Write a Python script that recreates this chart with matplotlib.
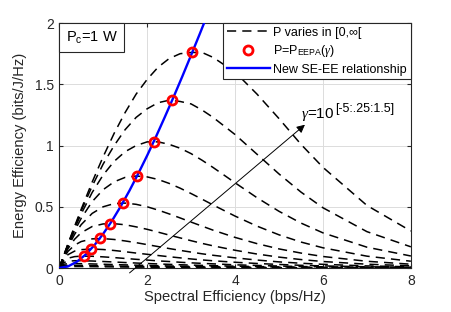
import matplotlib
matplotlib.use('Agg')
import matplotlib.pyplot as plt
from matplotlib.offsetbox import AnchoredText

plt.rcParams['font.family'] = ['Liberation Sans', 'DejaVu Sans']
plt.rcParams['mathtext.fontset'] = 'custom'
plt.rcParams['mathtext.rm'] = 'Liberation Sans'
plt.rcParams['mathtext.it'] = 'Liberation Serif:italic'

# spectral efficiency samples shared by all dashed curves (bps/Hz)
se = [0, 0.1, 0.2, 0.35, 0.5, 0.75, 1, 1.25, 1.5, 1.75, 2, 2.25, 2.5,
      2.75, 3, 3.25, 3.5, 4, 4.5, 5, 5.5, 6, 7, 8]

# energy efficiency of each dashed curve, gamma = 10^k
ee_curves = {
    1.00: [0, 0.0993, 0.197, 0.341, 0.48, 0.702, 0.909, 1.1, 1.27, 1.42, 1.54,
           1.64, 1.71, 1.75, 1.76, 1.76, 1.72, 1.6, 1.42, 1.22, 1.01, 0.822,
           0.511, 0.302],
    0.75: [0, 0.0987, 0.195, 0.334, 0.466, 0.669, 0.849, 1.0, 1.13, 1.23, 1.3,
           1.35, 1.37, 1.36, 1.34, 1.29, 1.23, 1.09, 0.929, 0.768, 0.62, 0.492,
           0.297, 0.173],
    0.50: [0, 0.0978, 0.191, 0.322, 0.442, 0.617, 0.76, 0.871, 0.95, 1.0, 1.03,
           1.03, 1.01, 0.978, 0.934, 0.88, 0.821, 0.696, 0.574, 0.463, 0.367,
           0.287, 0.17, 0.098],
    0.25: [0, 0.0961, 0.185, 0.303, 0.406, 0.542, 0.64, 0.704, 0.74, 0.751,
           0.744, 0.723, 0.691, 0.652, 0.608, 0.562, 0.515, 0.424, 0.342, 0.271,
           0.212, 0.165, 0.0967, 0.0554],
    0.00: [0, 0.093, 0.174, 0.275, 0.354, 0.446, 0.5, 0.526, 0.53, 0.52, 0.5,
           0.473, 0.442, 0.409, 0.375, 0.342, 0.309, 0.25, 0.199, 0.156, 0.122,
           0.094, 0.055, 0.031],
    -0.25: [0, 0.089, 0.158, 0.235, 0.288, 0.339, 0.36, 0.362, 0.353, 0.336,
            0.316, 0.293, 0.269, 0.246, 0.223, 0.201, 0.181, 0.145, 0.114,
            0.089, 0.069, 0.053, 0.031, 0.018],
    -0.50: [0, 0.082, 0.136, 0.187, 0.216, 0.238, 0.24, 0.233, 0.221, 0.207,
            0.191, 0.175, 0.159, 0.144, 0.13, 0.116, 0.104, 0.083, 0.065, 0.05,
            0.039, 0.03, 0.017, 0.01],
    -0.75: [0, 0.071, 0.109, 0.138, 0.15, 0.155, 0.151, 0.143, 0.133, 0.122,
            0.112, 0.102, 0.092, 0.083, 0.074, 0.066, 0.059, 0.047, 0.037,
            0.029, 0.022, 0.017, 0.01, 0.006],
    -1.00: [0, 0.058, 0.08, 0.093, 0.097, 0.096, 0.091, 0.085, 0.078, 0.071,
            0.065, 0.058, 0.053, 0.047, 0.042, 0.038, 0.034, 0.026, 0.021,
            0.016, 0.012, 0.01, 0.006, 0.003],
    -1.25: [0, 0.044, 0.055, 0.0595, 0.0597, 0.0571, 0.0532, 0.049, 0.0447,
            0.0406, 0.0368, 0.0332, 0.0298, 0.0267, 0.0239, 0.0213, 0.019,
            0.0149, 0.0117, 0.009, 0.007, 0.0054, 0.0031, 0.0018],
    -1.50: [0, 0.031, 0.035, 0.036, 0.0354, 0.0332, 0.0306, 0.028, 0.0255,
            0.0231, 0.0209, 0.0188, 0.0168, 0.0151, 0.0135, 0.012, 0.0107,
            0.0084, 0.0066, 0.0051, 0.0039, 0.003, 0.0017, 0.001],
    -1.75: [0, 0.02, 0.021, 0.021, 0.021, 0.019, 0.017, 0.016, 0.014, 0.013,
            0.012, 0.011, 0.01, 0.009, 0.008, 0.007, 0.006, 0.005, 0.004, 0.003,
            0.002, 0.002, 0.001, 0.001],
    -2.00: [0, 0.012, 0.013, 0.012, 0.012, 0.011, 0.01, 0.009, 0.008, 0.007,
            0.007, 0.006, 0.005, 0.005, 0.004, 0.004, 0.003, 0.003, 0.002,
            0.002, 0.001, 0.001, 0.001, 0],
}

# EEPA points (red circles)
eepa_se = [0.565, 0.725, 0.922, 1.160, 1.443, 1.772, 2.147, 2.568, 3.031]
eepa_ee = [0.098, 0.155, 0.241, 0.363, 0.531, 0.751, 1.030, 1.368, 1.765]

# new SE-EE relationship (blue line)
blue_se = [0, 0.2, 0.4, 0.6, 0.8, 1.0, 1.2, 1.4, 1.6, 1.8, 2.0, 2.2, 2.4,
           2.6, 2.8, 3.0, 3.2, 3.4]
blue_ee = [0.000, 0.013, 0.051, 0.109, 0.186, 0.279, 0.385, 0.504, 0.633,
           0.772, 0.918, 1.071, 1.231, 1.395, 1.564, 1.738, 1.914, 2.094]

txt_col = '#262626'

fig = plt.figure(figsize=(4.52, 3.12), dpi=100)
ax = fig.add_axes([0.131, 0.141, 0.778, 0.785])

first = True
for k, ee in ee_curves.items():
    ax.plot(se, ee, color='black', linestyle=(0, (6, 4)), linewidth=1.1,
            label='P varies in [0,\u221e[' if first else None)
    first = False

ax.plot(eepa_se, eepa_ee, linestyle='none', marker='o', markersize=6.5,
        markerfacecolor='none', markeredgecolor='red', markeredgewidth=2,
        label='P=P$_{\\rm EEPA}$($\\gamma$)', zorder=4)
ax.plot(blue_se, blue_ee, color='blue', linewidth=1.7,
        label='New SE-EE relationship', zorder=3)

ax.set_xlim(0, 8)
ax.set_ylim(0, 2)
ax.set_xticks([0, 2, 4, 6, 8])
ax.set_yticks([0, 0.5, 1, 1.5, 2])
ax.set_yticklabels(['0', '0.5', '1', '1.5', '2'])
ax.grid(True, color='#dcdcdc', linewidth=0.7)
ax.set_axisbelow(True)
ax.tick_params(direction='in', top=True, right=True, length=3,
               labelsize=10, colors=txt_col, pad=4)
for s in ax.spines.values():
    s.set_color(txt_col)
    s.set_linewidth(0.8)

ax.set_xlabel('Spectral Efficiency (bps/Hz)', fontsize=10.6, color=txt_col,
              labelpad=2)
ax.set_ylabel('Energy Efficiency (bits/J/Hz)', fontsize=10.6, color=txt_col,
              labelpad=5)

leg = ax.legend(loc='upper right', fontsize=9, borderaxespad=0,
                fancybox=False, edgecolor=txt_col, framealpha=1,
                handlelength=3.4, handletextpad=0.3, borderpad=0.3,
                labelspacing=0.35)
leg.get_frame().set_linewidth(0.8)

at = AnchoredText('P$_{\\rm c}$=1 W', loc='upper left', borderpad=0,
                  pad=0.45, prop=dict(size=10.5))
at.patch.set_edgecolor(txt_col)
at.patch.set_linewidth(0.8)
ax.add_artist(at)

ax.annotate('', xy=(5.59, 1.17), xytext=(1.6, -0.04),
            arrowprops=dict(arrowstyle='-|>', color='black', lw=0.7,
                            mutation_scale=12, shrinkA=0, shrinkB=0),
            annotation_clip=False)
base = ax.text(5.5, 1.25, '$\\gamma$=10', fontsize=11, va='center',
               ha='left')
ax.annotate('[-5:.25:1.5]', xy=(1.02, 0.5), xycoords=base, fontsize=9,
            va='bottom', ha='left')

fig.savefig('out.png', dpi=100)
